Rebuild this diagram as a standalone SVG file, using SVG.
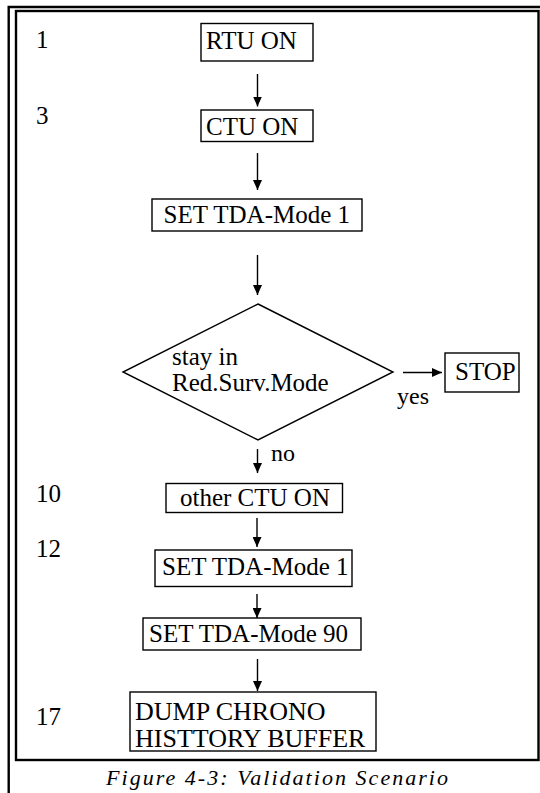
<svg xmlns="http://www.w3.org/2000/svg" width="540" height="793" viewBox="0 0 540 793">
<style>
text{font-family:"Liberation Serif","Times New Roman",serif;font-size:25px;fill:#000}
.box{fill:#fff;stroke:#000;stroke-width:1.4}
.frame{fill:none;stroke:#000;stroke-width:2.4}
.conn{stroke:#000;stroke-width:1.4;fill:none}
.lbl{font-size:24px}
.big{font-size:26px}
.cap{font-style:italic;font-size:22px}
</style>
<defs>
<marker id="ah" markerUnits="userSpaceOnUse" markerWidth="11" markerHeight="9" refX="10" refY="4.5" orient="auto">
<path d="M0,0 L10,4.5 L0,9 z" fill="#000"/>
</marker>
</defs>
<rect width="540" height="793" fill="#fff"/>
<g id="frame">
<polyline class="frame" points="8.7,793 8.7,7 541,7"/>
<rect class="frame" x="16" y="11" width="522.5" height="749"/>
</g>
<g id="steps">
<text x="36" y="48">1</text>
<text x="36" y="124">3</text>
<text x="36" y="502">10</text>
<text x="36" y="557">12</text>
<text x="36" y="725">17</text>
</g>
<g id="connectors">
<line class="conn" x1="257.5" y1="74" x2="257.5" y2="106.5" marker-end="url(#ah)"/>
<line class="conn" x1="257.5" y1="153" x2="257.5" y2="190" marker-end="url(#ah)"/>
<line class="conn" x1="257.5" y1="255" x2="257.5" y2="295" marker-end="url(#ah)"/>
<line class="conn" x1="403" y1="372.5" x2="442" y2="372.5" marker-end="url(#ah)"/>
<line class="conn" x1="257.5" y1="449" x2="257.5" y2="473" marker-end="url(#ah)"/>
<line class="conn" x1="257" y1="518" x2="257" y2="547" marker-end="url(#ah)"/>
<line class="conn" x1="257" y1="594" x2="257" y2="618" marker-end="url(#ah)"/>
<line class="conn" x1="257.5" y1="659" x2="257.5" y2="691" marker-end="url(#ah)"/>
<text class="lbl" x="397" y="404">yes</text>
<text class="lbl" x="271" y="461">no</text>
</g>
<g id="rtu-on">
<rect class="box" x="201" y="23.5" width="112" height="37.5"/>
<text x="206" y="48.5">RTU ON</text>
</g>
<g id="ctu-on">
<rect class="box" x="201" y="110" width="112" height="31.5"/>
<text x="206" y="134.5">CTU ON</text>
</g>
<g id="set-tda-1a">
<rect class="box" x="152" y="199" width="210" height="32"/>
<text x="163.5" y="222.5">SET TDA-Mode 1</text>
</g>
<g id="decision">
<polygon class="box" points="258,304 393,372 258,440 123,372"/>
<text x="172" y="365">stay in</text>
<text x="172" y="391">Red.Surv.Mode</text>
</g>
<g id="stop">
<rect class="box" x="445" y="353" width="74" height="39"/>
<text x="455" y="380">STOP</text>
</g>
<g id="other-ctu-on">
<rect class="box" x="166" y="483.5" width="176.5" height="29"/>
<text x="180" y="506">other CTU ON</text>
</g>
<g id="set-tda-1b">
<rect class="box" x="155" y="550" width="197" height="36.5"/>
<text x="162" y="574.5">SET TDA-Mode 1</text>
</g>
<g id="set-tda-90">
<rect class="box" x="143" y="618" width="218" height="32"/>
<text x="149" y="642">SET TDA-Mode 90</text>
</g>
<g id="dump">
<rect class="box" x="130" y="692" width="246" height="59"/>
<text class="big" x="135" y="720">DUMP CHRONO</text>
<text class="big" x="135" y="746.5">HISTTORY BUFFER</text>
</g>
<g id="caption">
<text class="cap" x="106" y="785" textLength="342" lengthAdjust="spacing">Figure 4-3: Validation Scenario</text>
</g>
</svg>
